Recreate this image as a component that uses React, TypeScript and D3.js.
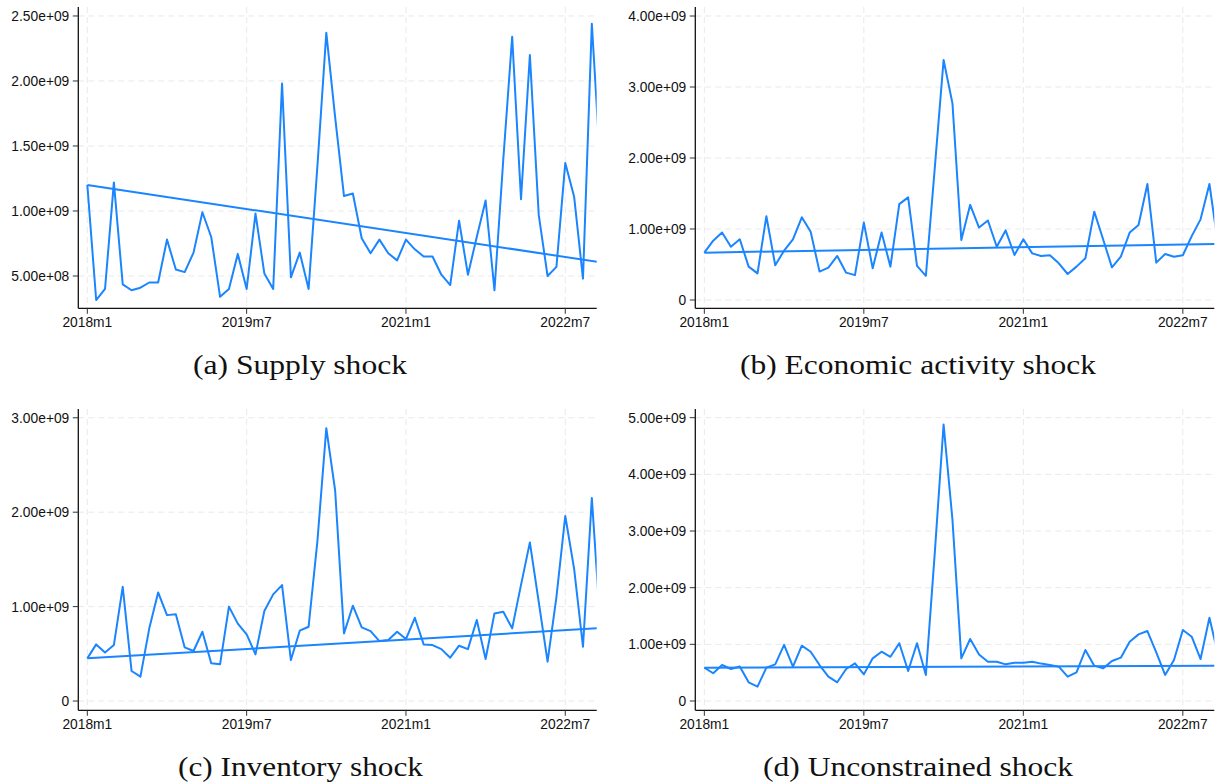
import React from "react";
import * as d3 from "d3";

// ---- Data (billions; monthly from 2018m1) ----
const monthIndex = d3.range(59);
const xTickMonths = [0, 18, 36, 54];
const xTickLabels = ["2018m1", "2019m7", "2021m1", "2022m7"];

const supplyShock = [
  1.2, 0.315, 0.4, 1.22, 0.436, 0.39, 0.41, 0.45, 0.45, 0.78, 0.55, 0.53, 0.68, 0.99, 0.8, 0.34,
  0.4, 0.67, 0.4, 0.98, 0.52, 0.4, 1.98, 0.49, 0.68, 0.4, 1.35, 2.37, 1.72, 1.115, 1.135, 0.79,
  0.675, 0.78, 0.675, 0.62, 0.78, 0.705, 0.65, 0.65, 0.51, 0.43, 0.925, 0.51, 0.8, 1.08, 0.39,
  1.4, 2.34, 1.09, 2.2, 0.97, 0.5, 0.57, 1.37, 1.11, 0.48, 2.44, 1.3,
];
const activityShock = [
  0.667, 0.836, 0.95, 0.75, 0.855, 0.47, 0.375, 1.18, 0.49, 0.695, 0.855, 1.165, 0.96, 0.4, 0.455,
  0.62, 0.385, 0.35, 1.09, 0.446, 0.95, 0.47, 1.35, 1.445, 0.48, 0.34, 1.85, 3.38, 2.77, 0.845,
  1.34, 1.02, 1.12, 0.75, 0.98, 0.634, 0.855, 0.657, 0.62, 0.63, 0.516, 0.366, 0.47, 0.587, 1.244,
  0.855, 0.46, 0.61, 0.95, 1.056, 1.634, 0.526, 0.648, 0.61, 0.63, 0.9, 1.136, 1.634, 0.75,
];
const inventoryShock = [
  0.452, 0.6, 0.515, 0.593, 1.21, 0.318, 0.258, 0.77, 1.15, 0.91, 0.92, 0.568, 0.53, 0.734, 0.4,
  0.39, 1.0, 0.82, 0.706, 0.494, 0.953, 1.13, 1.228, 0.434, 0.745, 0.787, 1.7, 2.89, 2.23, 0.717,
  1.01, 0.78, 0.74, 0.635, 0.646, 0.734, 0.657, 0.882, 0.6, 0.593, 0.55, 0.459, 0.586, 0.55, 0.858,
  0.445, 0.928, 0.946, 0.77, 1.23, 1.68, 1.05, 0.417, 1.1, 1.96, 1.4, 0.575, 2.15, 0.75,
];
const unconstrainedShock = [
  0.588, 0.49, 0.635, 0.565, 0.61, 0.33, 0.253, 0.588, 0.647, 0.99, 0.606, 0.976, 0.87, 0.635,
  0.43, 0.33, 0.565, 0.665, 0.47, 0.753, 0.87, 0.78, 1.02, 0.53, 1.02, 0.46, 2.6, 4.88, 3.2, 0.753,
  1.094, 0.82, 0.694, 0.694, 0.647, 0.676, 0.676, 0.694, 0.66, 0.635, 0.606, 0.43, 0.506, 0.9,
  0.624, 0.576, 0.706, 0.765, 1.047, 1.176, 1.235, 0.86, 0.46, 0.724, 1.253, 1.135, 0.74, 1.47, 0.8,
];

// Linear fit lines: value at first month (0) and at month 58
const trendMonths = [0, 58];
const supplyTrend = [1.2, 0.605];
const activityTrend = [0.667, 0.791];
const inventoryTrend = [0.452, 0.773];
const unconstrainedTrend = [0.588, 0.624];

const supplyTicks = [0.5, 1.0, 1.5, 2.0, 2.5];
const activityTicks = [0, 1, 2, 3, 4];
const inventoryTicks = [0, 1, 2, 3];
const unconstrainedTicks = [0, 1, 2, 3, 4, 5];

const captions = [
  "(a) Supply shock",
  "(b) Economic activity shock",
  "(c) Inventory shock",
  "(d) Unconstrained shock",
];

// ---- Layout ----
const W = 1217;
const H = 783;
const BLUE = "#1a85ff";
const GRID = "#e9e9e9";
const TICK_FONT = "'Liberation Sans', Arial, Helvetica, sans-serif";
const CAP_FONT = "'Liberation Serif', 'Times New Roman', serif";

const xDomain: [number, number] = [-1.02, 57.55];

const panels = [
  {
    id: "a",
    values: supplyShock,
    trend: supplyTrend,
    ticks: supplyTicks,
    yDomain: [0.2515, 2.569],
    frame: { left: 78.3, right: 596.7, top: 7, bottom: 308.3 },
    caption: captions[0],
    capX: 300,
    capY: 373.5,
    capW: 214,
  },
  {
    id: "b",
    values: activityShock,
    trend: activityTrend,
    ticks: activityTicks,
    yDomain: [-0.117, 4.127],
    frame: { left: 695.3, right: 1214.3, top: 7, bottom: 308.3 },
    caption: captions[1],
    capX: 918,
    capY: 373.5,
    capW: 356,
  },
  {
    id: "c",
    values: inventoryShock,
    trend: inventoryTrend,
    ticks: inventoryTicks,
    yDomain: [-0.098, 3.093],
    frame: { left: 78.3, right: 596.7, top: 409, bottom: 710.3 },
    caption: captions[2],
    capX: 300.5,
    capY: 776,
    capW: 245,
  },
  {
    id: "d",
    values: unconstrainedShock,
    trend: unconstrainedTrend,
    ticks: unconstrainedTicks,
    yDomain: [-0.164, 5.153],
    frame: { left: 695.3, right: 1214.3, top: 409, bottom: 710.3 },
    caption: captions[3],
    capX: 918,
    capY: 776,
    capW: 310,
  },
];

function fmt(v: number): string {
  if (v === 0) return "0";
  const s = (v * 1e9).toExponential(2);
  return s.replace(/e([+-])(\d)$/, "e$10$2");
}

function Panel({ p }: { p: (typeof panels)[number] }) {
  const { left, right, top, bottom } = p.frame;
  const x = d3.scaleLinear().domain(xDomain).range([left, right]);
  const y = d3.scaleLinear().domain(p.yDomain).range([bottom, top]);
  const line = d3
    .line<number>()
    .x((_, i) => x(monthIndex[i]))
    .y((d) => y(d));
  const trendLine = d3
    .line<number>()
    .x((_, i) => x(trendMonths[i]))
    .y((d) => y(d));
  const clipId = `clip-${p.id}`;
  return (
    <g>
      <defs>
        <clipPath id={clipId}>
          <rect x={left} y={top} width={right - left} height={bottom - top} />
        </clipPath>
      </defs>
      {/* grid */}
      {p.ticks.map((t) => (
        <line
          key={`hg${t}`}
          x1={left}
          x2={right}
          y1={y(t)}
          y2={y(t)}
          stroke={GRID}
          strokeWidth={1}
          strokeDasharray="6 4"
        />
      ))}
      {xTickMonths.map((m) => (
        <line
          key={`vg${m}`}
          x1={x(m)}
          x2={x(m)}
          y1={top}
          y2={bottom}
          stroke={GRID}
          strokeWidth={1}
          strokeDasharray="6 4"
        />
      ))}
      {/* series */}
      <g clipPath={`url(#${clipId})`}>
        <path
          d={line(p.values) || ""}
          fill="none"
          stroke={BLUE}
          strokeWidth={2}
          strokeLinejoin="round"
        />
        <path d={trendLine(p.trend) || ""} fill="none" stroke={BLUE} strokeWidth={2} />
      </g>
      {/* axes */}
      <line x1={left} x2={left} y1={top} y2={bottom} stroke="#111" strokeWidth={1.3} />
      <line x1={left} x2={right} y1={bottom} y2={bottom} stroke="#111" strokeWidth={1.3} />
      {p.ticks.map((t) => (
        <g key={`yt${t}`}>
          <line x1={left - 5.5} x2={left} y1={y(t)} y2={y(t)} stroke="#333" strokeWidth={1} />
          <text
            x={left - 9}
            y={y(t)}
            dy="0.36em"
            textAnchor="end"
            fontFamily={TICK_FONT}
            fontSize={13.8}
            fill="#111"
          >
            {fmt(t)}
          </text>
        </g>
      ))}
      {xTickMonths.map((m, i) => (
        <g key={`xt${m}`}>
          <line x1={x(m)} x2={x(m)} y1={bottom} y2={bottom + 5.5} stroke="#333" strokeWidth={1} />
          <text
            x={x(m)}
            y={bottom + 19}
            textAnchor="middle"
            fontFamily={TICK_FONT}
            fontSize={13.8}
            fill="#111"
          >
            {xTickLabels[i]}
          </text>
        </g>
      ))}
      <text
        x={p.capX}
        y={p.capY}
        textAnchor="middle"
        fontFamily={CAP_FONT}
        fontSize={27.5}
        fill="#111"
        textLength={p.capW}
        lengthAdjust="spacingAndGlyphs"
      >
        {p.caption}
      </text>
    </g>
  );
}

export default function App() {
  return (
    <svg
      width={W}
      height={H}
      viewBox={`0 0 ${W} ${H}`}
      style={{ position: "absolute", left: 0, top: 0, background: "#fff" }}
    >
      <rect x={0} y={0} width={W} height={H} fill="#fff" />
      {panels.map((p) => (
        <Panel key={p.id} p={p} />
      ))}
    </svg>
  );
}
